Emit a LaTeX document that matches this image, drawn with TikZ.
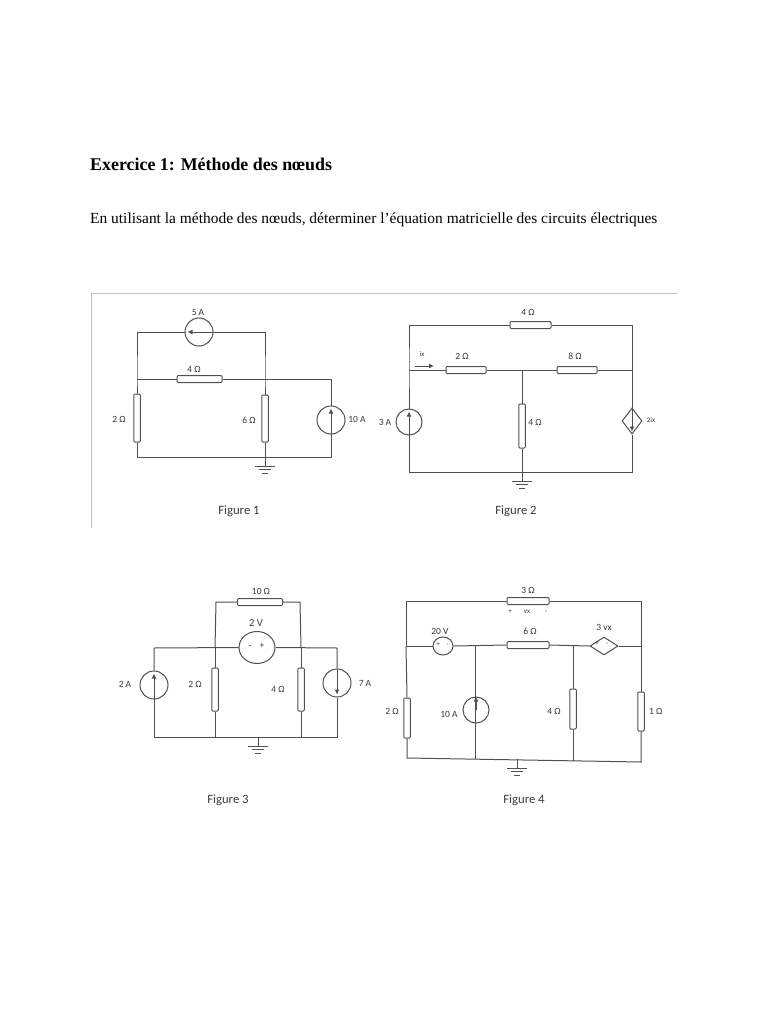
\documentclass[tikz,border=0pt]{standalone}
\usepackage{fontspec}
\usetikzlibrary{shapes.geometric,arrows.meta}
\setmainfont{Liberation Serif}
\newfontfamily\lab{Carlito}
\definecolor{wirec}{HTML}{505050}
\definecolor{labc}{HTML}{3A3A3A}
\newcommand{\groundsym}[1]{%
  \draw[wire] (#1) -- ++(0,9) coordinate (#1t);
  \draw[wire] (#1t) ++(-10,0) -- ++(20,0);
  \draw[wire] (#1t) ++(-6,3.5) -- ++(12,0);
  \draw[wire] (#1t) ++(-3,7) -- ++(6,0);}
\tikzset{x=1pt,y=-1pt,
  wire/.style={draw=wirec,line width=1pt},
  hres/.style={draw=wirec,line width=1pt,rectangle,rounded corners=1pt,inner sep=0pt,minimum width=#1,minimum height=7pt},
  hres/.default=42pt,
  vres/.style={draw=wirec,line width=1pt,rectangle,rounded corners=1pt,inner sep=0pt,minimum width=6.5pt,minimum height=#1},
  vres/.default=46pt,
  src/.style={draw=wirec,line width=1pt,circle,inner sep=0pt,minimum size=#1},
  src/.default=28pt,
  ell/.style={draw=wirec,line width=1pt,ellipse,inner sep=0pt},
  dia/.style={draw=wirec,line width=1pt,diamond,inner sep=0pt,aspect=#1},
  flow/.style={draw=wirec,line width=0.9pt,-{Latex[length=5pt,width=5pt]},shorten >=3pt},
  lbl/.style={font=\lab\fontsize{9.5}{10}\selectfont,text=labc,inner sep=0pt},
  fig/.style={font=\lab\fontsize{12.7}{14}\selectfont,text=labc,inner sep=0pt},
  tiny/.style={font=\lab\fontsize{7}{8}\selectfont,text=labc,inner sep=0pt}}
\begin{document}
\begin{tikzpicture}
\useasboundingbox (0,0) rectangle (768,1024);
\fill[white] (0,0) rectangle (768,1024);
\node[anchor=base west,inner sep=0pt,font=\fontsize{17.9}{19}\selectfont\bfseries] (title) at (90,171) {Exercice 1: Méthode des nœuds};
\node[anchor=base west,inner sep=0pt,font=\fontsize{15.45}{17}\selectfont] (intro) at (90,224) {En utilisant la méthode des nœuds, déterminer l’équation matricielle des circuits électriques};
% frame
\coordinate (fa) at (91,528); \coordinate (fb) at (91,293); \coordinate (fc) at (677,293);
\draw[draw=black!25,line width=0.8pt] (fa) -- (fb) -- (fc);

% Figure 1
\node[src] (s5) at (199,332) {};
\node[src] (s10) at (331,420) {};
\node[hres=45pt] (r14) at (199.5,379) {};
\node[vres=48pt] (r12) at (137,418) {};
\node[vres=47pt] (r16) at (265,418.5) {};
\coordinate (a1) at (137,332); \coordinate (a2) at (265,332);
\coordinate (a3) at (137,379); \coordinate (a4) at (331,379);
\coordinate (a5) at (137,457); \coordinate (a6) at (331,457); \coordinate (g1) at (265,457);
\coordinate (a7) at (265,379);
\draw[wire] (r12.north) -- (a3) -- (a1) -- (s5.west);
\draw[wire] (s5.east) -- (a2) -- (a7) -- (r16.north);
\draw[wire] (a3) -- (r14.west);
\draw[wire] (r14.east) -- (a4) -- (s10.north);
\draw[wire] (r12.south) -- (a5) -- (a6) -- (s10.south);
\draw[wire] (r16.south) -- (g1);
\groundsym{g1}
\draw[flow] (s5.east) -- (s5.west);
\draw[flow] (s10.south) -- (s10.north);
\node[lbl] (l1a) at (198,312) {5 A};
\node[lbl] (l1b) at (194,369) {4 Ω};
\node[lbl] (l1c) at (119,419) {2 Ω};
\node[lbl] (l1d) at (249,420) {6 Ω};
\node[lbl] (l1e) at (357,419) {10 A};
\node[fig] (f1) at (239,511) {Figure 1};

% Figure 2
\node[hres=41pt] (r24) at (530.5,325) {};
\node[hres=40pt] (r22) at (466,370) {};
\node[hres=40pt] (r28) at (577,370) {};
\node[vres=44pt] (r2v) at (522,426) {};
\node[src=26pt] (s3) at (409,422) {};
\node[dia=0.77,minimum width=20pt,minimum height=26pt] (d2) at (632,421) {};
\coordinate (b1) at (409,325); \coordinate (b2) at (632,325);
\coordinate (b3) at (409,370); \coordinate (b4) at (632,370);
\coordinate (b5) at (522,370); \coordinate (b6) at (409,472); \coordinate (b7) at (632,472);
\coordinate (g2) at (522,472);
\coordinate (i1) at (415,366); \coordinate (i2) at (434,366);
\draw[wire] (s3.north) -- (b3) -- (b1) -- (r24.west);
\draw[wire] (r24.east) -- (b2) -- (b4) -- (d2.north);
\draw[wire] (b3) -- (r22.west);
\draw[wire] (r22.east) -- (r28.west);
\draw[wire] (r28.east) -- (b4);
\draw[wire] (b5) -- (r2v.north);
\draw[wire] (r2v.south) -- (g2);
\draw[wire] (s3.south) -- (b6) -- (b7) -- (d2.south);
\groundsym{g2}
\draw[flow] (s3.south) -- (s3.north);
\draw[flow] (d2.north) -- (d2.south);
\draw[flow,shorten >=0pt] (i1) -- (i2);
\node[lbl] (l2a) at (528,312) {4 Ω};
\node[lbl] (l2b) at (462,356) {2 Ω};
\node[lbl] (l2c) at (575,356) {8 Ω};
\node[tiny] (l2d) at (422,354) {ix};
\node[lbl] (l2e) at (385,422) {3 A};
\node[lbl] (l2f) at (535,422) {4 Ω};
\node[tiny] (l2g) at (651,420) {2ix};
\node[fig] (f2) at (516,511) {Figure 2};

% Figure 3
\node[hres=45pt] (r310) at (260,602) {};
\node[ell,minimum width=36pt,minimum height=32pt] (s2v) at (257,647.5) {};
\node[src] (s2a) at (154,685) {};
\node[src] (s7) at (337,683) {};
\node[vres=43pt] (r32) at (215,689.5) {};
\node[vres=43pt] (r34) at (301,689.5) {};
\coordinate (c1) at (216,602); \coordinate (c2) at (300,602);
\coordinate (c3) at (154,648); \coordinate (c4) at (337,648);
\coordinate (c5) at (215,648); \coordinate (c6) at (301,648);
\coordinate (c7) at (154,737); \coordinate (c8) at (337,737); 
\coordinate (c9) at (215,737); \coordinate (c10) at (301,737); \coordinate (g3) at (258,737);
\draw[wire] (c5) -- (c1) -- (r310.west);
\draw[wire] (r310.east) -- (c2) -- (c6);
\draw[wire] (s2a.north) -- (c3) -- (s2v.west);
\draw[wire] (s2v.east) -- (c4) -- (s7.north);
\draw[wire] (c5) -- (r32.north);
\draw[wire] (c6) -- (r34.north);
\draw[wire] (s2a.south) -- (c7) -- (c8) -- (s7.south);
\draw[wire] (r32.south) -- (c9);
\draw[wire] (r34.south) -- (c10);
\groundsym{g3}
\draw[flow] (s2a.south) -- (s2a.north);
\draw[flow] (s7.north) -- (s7.south);
\node[lbl] (l3a) at (261,591) {10 Ω};
\node[lbl,font=\lab\fontsize{10.5}{11}\selectfont] (l3b) at (256,623) {2 V};
\node[lbl] (l3c) at (250,647) {-};
\node[lbl] (l3d) at (262,646) {+};
\node[lbl] (l3e) at (125,684) {2 A};
\node[lbl] (l3f) at (195,684) {2 Ω};
\node[lbl] (l3g) at (278,689) {4 Ω};
\node[lbl] (l3h) at (365,683) {7 A};
\node[fig] (f3) at (228,800) {Figure 3};

% Figure 4
\node[hres=42pt] (r43) at (528,601) {};
\node[hres=42pt] (r46) at (528,645) {};
\node[ell,minimum width=20pt,minimum height=18pt] (s20) at (443,646) {};
\node[dia=1.55,minimum width=28pt,minimum height=18pt] (d4) at (604,646) {};
\node[vres=40pt] (r42) at (407,718) {};
\node[src=26pt] (s410) at (476,710) {};
\node[vres=40pt] (r44) at (573,709) {};
\node[vres=39pt] (r41) at (641,711.5) {};
\coordinate (e1) at (406,601); \coordinate (e2) at (641,601);
\coordinate (e3) at (406,646); \coordinate (e4) at (641,646);
\coordinate (e5) at (475,646); \coordinate (e6) at (573,645.5);
\coordinate (e7) at (407,758); \coordinate (e8) at (641,762);
\coordinate (e9) at (475,758.5); \coordinate (e10) at (573,760.5);
\coordinate (g4) at (517,759);
\draw[wire] (e3) -- (e1) -- (r43.west);
\draw[wire] (r43.east) -- (e2) -- (r41.north);
\draw[wire] (e3) -- (s20.west);
\draw[wire] (e3) -- (r42.north);
\draw[wire] (s20.east) -- (r46.west);
\draw[wire] (r46.east) -- (d4.west);
\draw[wire] (d4.east) -- (e4);
\draw[wire] (e5) -- (e9);
\draw[wire] (e6) -- (r44.north);
\draw[wire] (r44.south) -- (e10);
\draw[wire] (r42.south) -- (e7) -- (e8) -- (r41.south);
\groundsym{g4}
\draw[flow,shorten >=0pt,shorten <=0pt] (s410.center) -- (s410.north);
\node[lbl] (l4a) at (528,590) {3 Ω};
\node[tiny] (l4b) at (510,612) {+};
\node[tiny] (l4c) at (527,612) {vx};
\node[tiny] (l4d) at (546,612) {-};
\node[lbl] (l4e) at (440,631) {20 V};
\node[lbl] (l4f) at (530,631) {6 Ω};
\node[lbl] (l4g) at (604,627) {3 vx};
\node[tiny] (l4h) at (438,645) {+};
\node[tiny] (l4i) at (448,645) {-};
\node[tiny] (l4j) at (597,644) {+};
\node[tiny] (l4k) at (607,644) {-};
\node[lbl] (l4l) at (392,711) {2 Ω};
\node[lbl] (l4m) at (449,714) {10 A};
\node[lbl] (l4n) at (554,711) {4 Ω};
\node[lbl,anchor=west] (l4o) at (649,711) {1 Ω};
\node[fig] (f4) at (524,800) {Figure 4};
\end{tikzpicture}
\end{document}
